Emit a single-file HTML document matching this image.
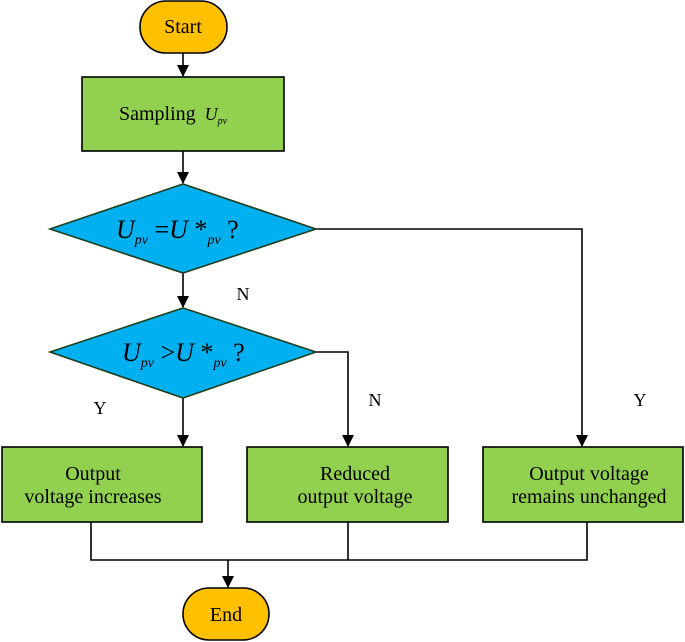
<!DOCTYPE html>
<html><head><style>body{margin:0;background:#fff}svg{display:block}text{font-family:"Liberation Serif",serif;fill:#000}</style></head><body>
<svg width="685" height="642" viewBox="0 0 685 642">
<defs><marker id="a" markerWidth="12" markerHeight="12" refX="11" refY="6" orient="auto" markerUnits="userSpaceOnUse"><path d="M0,0 L12,6 L0,12 Z" fill="#000"/></marker></defs>
<g stroke="#000" stroke-width="1.6" fill="none">
<line x1="183" y1="53" x2="183" y2="76" marker-end="url(#a)"/>
<line x1="183" y1="151" x2="183" y2="183" marker-end="url(#a)"/>
<line x1="183" y1="273" x2="183" y2="307" marker-end="url(#a)"/>
<polyline points="316,229 582,229 582,446" marker-end="url(#a)"/>
<polyline points="316,352 348,352 348,446" marker-end="url(#a)"/>
<line x1="183" y1="398" x2="183" y2="446" marker-end="url(#a)"/>
<polyline points="91,522 91,560 587,560 587,522"/>
<line x1="348" y1="522" x2="348" y2="560"/>
<line x1="228" y1="560" x2="228" y2="587" marker-end="url(#a)"/>
</g>
<rect x="140" y="1" width="87" height="52" rx="26" fill="#ffc000" stroke="#000" stroke-width="1.6"/>
<text x="183" y="33" font-size="20" text-anchor="middle">Start</text>
<rect x="82" y="77" width="202" height="74" fill="#92d050" stroke="#000" stroke-width="1.6"/>
<text x="119" y="120" font-size="20">Sampling <tspan font-style="italic" font-size="18" dx="4">U</tspan><tspan font-style="italic" font-size="10" dy="4">pv</tspan></text>
<polygon points="50,229 183,184 316,229 183,273" fill="#00b0f0" stroke="#1f3f1f" stroke-width="1.6"/>
<text x="116" y="238" font-size="26" font-style="italic">U<tspan font-size="14" dy="6">pv</tspan><tspan dy="-6" font-style="normal"> =</tspan>U<tspan font-style="normal"> *</tspan><tspan font-size="14" dy="6">pv</tspan><tspan dy="-6" font-style="normal"> ?</tspan></text>
<polygon points="50,352 183,308 316,352 183,398" fill="#00b0f0" stroke="#1f3f1f" stroke-width="1.6"/>
<text x="122" y="361" font-size="26" font-style="italic">U<tspan font-size="14" dy="6">pv</tspan><tspan dy="-6" font-style="normal"> &gt;</tspan>U<tspan font-style="normal"> *</tspan><tspan font-size="14" dy="6">pv</tspan><tspan dy="-6" font-style="normal"> ?</tspan></text>
<text x="243" y="300" font-size="18" text-anchor="middle">N</text>
<text x="100" y="414" font-size="18" text-anchor="middle">Y</text>
<text x="375" y="406" font-size="18" text-anchor="middle">N</text>
<text x="640" y="406" font-size="18" text-anchor="middle">Y</text>
<g fill="#92d050" stroke="#000" stroke-width="1.6">
<rect x="2" y="447" width="200" height="75"/>
<rect x="247" y="447" width="201" height="75"/>
<rect x="483" y="447" width="200" height="75"/>
</g>
<g font-size="20" text-anchor="middle">
<text x="93" y="480">Output</text><text x="93" y="503">voltage increases</text>
<text x="355" y="480">Reduced</text><text x="355" y="503">output voltage</text>
<text x="589" y="480">Output voltage</text><text x="589" y="503">remains unchanged</text>
</g>
<rect x="183" y="588" width="86" height="52" rx="26" fill="#ffc000" stroke="#000" stroke-width="1.6"/>
<text x="226" y="621" font-size="20" text-anchor="middle">End</text>
</svg>
</body></html>
